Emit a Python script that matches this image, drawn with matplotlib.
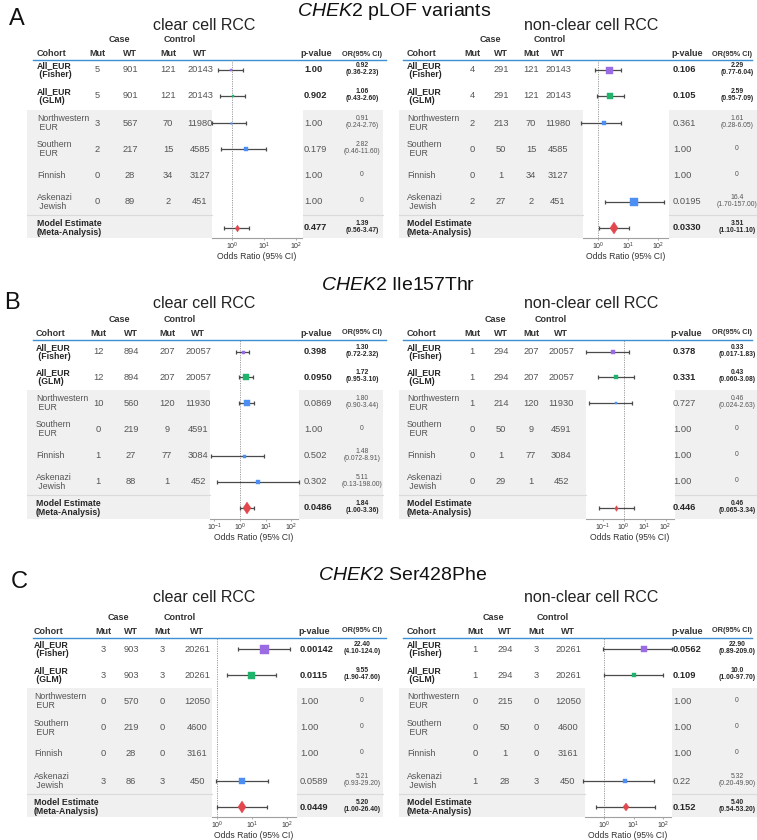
import matplotlib.pyplot as plt
from matplotlib.patches import Rectangle
from matplotlib.ticker import NullLocator

plt.rcParams['font.family'] = ['Liberation Sans', 'DejaVu Sans']
plt.rcParams['mathtext.fontset'] = 'custom'
plt.rcParams['mathtext.rm'] = 'Liberation Sans'
plt.rcParams['mathtext.it'] = 'Liberation Sans:italic'
plt.rcParams['mathtext.bf'] = 'Liberation Sans:bold'

W, H = 757, 840

cohorts = ["All_EUR\n (Fisher)", "All_EUR\n (GLM)", "Northwestern\n EUR",
           "Southern\n EUR", "Finnish", "Askenazi\n Jewish",
           "Model Estimate\n(Meta-Analysis)"]
bold_rows = [True, True, False, False, False, False, True]

# ---- A: CHEK2 pLOF variants
plof_ctrl_mut = [121, 121, 70, 15, 34, 2]
plof_ctrl_wt = [20143, 20143, 11980, 4585, 3127, 451]

plof_cc_case_mut = [5, 5, 3, 2, 0, 0]
plof_cc_case_wt = [901, 901, 567, 217, 28, 89]
plof_cc_pval = ["1.00", "0.902", "1.00", "0.179", "1.00", "1.00", "0.477"]
plof_cc_or = ["0.92", "1.06", "0.91", "2.82", "0", "0", "1.39"]
plof_cc_ci = ["0.36-2.23", "0.43-2.60", "0.24-2.76", "0.46-11.60", "", "", "0.56-3.47"]

plof_ncc_case_mut = [4, 4, 2, 0, 0, 2]
plof_ncc_case_wt = [291, 291, 213, 50, 1, 27]
plof_ncc_pval = ["0.106", "0.105", "0.361", "1.00", "1.00", "0.0195", "0.0330"]
plof_ncc_or = ["2.29", "2.59", "1.61", "0", "0", "16.4", "3.51"]
plof_ncc_ci = ["0.77-6.04", "0.95-7.09", "0.28-6.05", "", "", "1.70-157.00", "1.10-11.10"]

# ---- B: CHEK2 Ile157Thr
ile_ctrl_mut = [207, 207, 120, 9, 77, 1]
ile_ctrl_wt = [20057, 20057, 11930, 4591, 3084, 452]

ile_cc_case_mut = [12, 12, 10, 0, 1, 1]
ile_cc_case_wt = [894, 894, 560, 219, 27, 88]
ile_cc_pval = ["0.398", "0.0950", "0.0869", "1.00", "0.502", "0.302", "0.0486"]
ile_cc_or = ["1.30", "1.72", "1.80", "0", "1.48", "5.11", "1.84"]
ile_cc_ci = ["0.72-2.32", "0.95-3.10", "0.90-3.44", "", "0.072-8.91", "0.13-198.00", "1.00-3.36"]

ile_ncc_case_mut = [1, 1, 1, 0, 0, 0]
ile_ncc_case_wt = [294, 294, 214, 50, 1, 29]
ile_ncc_pval = ["0.378", "0.331", "0.727", "1.00", "1.00", "1.00", "0.446"]
ile_ncc_or = ["0.33", "0.43", "0.46", "0", "0", "0", "0.46"]
ile_ncc_ci = ["0.017-1.83", "0.060-3.08", "0.024-2.63", "", "", "", "0.065-3.34"]

# ---- C: CHEK2 Ser428Phe
ser_ctrl_mut = [3, 3, 0, 0, 0, 3]
ser_ctrl_wt = [20261, 20261, 12050, 4600, 3161, 450]

ser_cc_case_mut = [3, 3, 0, 0, 0, 3]
ser_cc_case_wt = [903, 903, 570, 219, 28, 86]
ser_cc_pval = ["0.00142", "0.0115", "1.00", "1.00", "1.00", "0.0589", "0.0449"]
ser_cc_or = ["22.40", "9.55", "0", "0", "0", "5.21", "5.20"]
ser_cc_ci = ["4.10-124.0", "1.90-47.60", "", "", "", "0.93-29.20", "1.00-26.40"]

ser_ncc_case_mut = [1, 1, 0, 0, 0, 1]
ser_ncc_case_wt = [294, 294, 215, 50, 1, 28]
ser_ncc_pval = ["0.0562", "0.109", "1.00", "1.00", "1.00", "0.22", "0.152"]
ser_ncc_or = ["22.90", "10.0", "0", "0", "0", "5.32", "5.40"]
ser_ncc_ci = ["0.89-209.0", "1.00-97.70", "", "", "", "0.20-49.90", "0.54-53.20"]

# ---- styling
BAND = '#f0f0f0'
SEP = '#dadada'
BLUE_LINE = '#3d8fd6'
TXT = '#555555'
DARK = '#262626'
row_colors = ['#9b6be3', '#1fb36b', '#4d8ef2', '#4d8ef2', '#4d8ef2', '#4d8ef2', '#e2474e']
row_markers = ['s', 's', 's', 's', 's', 's', 'd']

# panel vertical layout (pixels from top)
panels = [
    dict(letter='A', letter_x=17, letter_y=19, title=r'$\mathit{CHEK2}$ pLOF variants', title_x=394,
         title_y=11, sub_y=25, case_y=40, head_y=54, line_y=60,
         rows=[70, 96, 123, 149, 176, 202, 228], bottom=238),
    dict(letter='B', letter_x=12, letter_y=303, title=r'$\mathit{CHEK2}$ Ile157Thr', title_x=398,
         title_y=286, sub_y=304, case_y=320, head_y=333, line_y=340,
         rows=[352, 377, 403, 429, 456, 482, 508], bottom=519),
    dict(letter='C', letter_x=19, letter_y=582, title=r'$\mathit{CHEK2}$ Ser428Phe', title_x=403,
         title_y=575, sub_y=597, case_y=617, head_y=631, line_y=638,
         rows=[649, 675, 701, 728, 754, 781, 807], bottom=817),
]

left_cols = dict(edge_l=27, edge_r=383, line_l=33, line_r=386, sub_x=204, orc=362, orh=362)
right_cols = dict(edge_l=399, edge_r=757, line_l=403, line_r=752, sub_x=591, orc=737, orh=732)

tables = [
    # panel, title, data, columns, forest geometry, marker px
    (0, 'clear cell RCC',
     dict(mut1=plof_cc_case_mut, wt1=plof_cc_case_wt, mut2=plof_ctrl_mut, wt2=plof_ctrl_wt,
          pval=plof_cc_pval, est=plof_cc_or, ci=plof_cc_ci),
     dict(left_cols, cohort=37, mut1=97, wt1=130, mut2=168, wt2=200, case_x=119, ctrl_x=180, ph=300, pv=304),
     dict(left=212, right=302, one=232, ppd=32, ticks=[1, 10, 100]),
     [2, 2, 1.5, 5, 0, 0, 5]),
    (0, 'non-clear cell RCC',
     dict(mut1=plof_ncc_case_mut, wt1=plof_ncc_case_wt, mut2=plof_ctrl_mut, wt2=plof_ctrl_wt,
          pval=plof_ncc_pval, est=plof_ncc_or, ci=plof_ncc_ci),
     dict(right_cols, cohort=407, mut1=472, wt1=501, mut2=531, wt2=558, case_x=490, ctrl_x=550, ph=671, pv=673),
     dict(left=583, right=668, one=598, ppd=30, ticks=[1, 10, 100]),
     [7, 6, 4, 0, 0, 8, 9]),
    (1, 'clear cell RCC',
     dict(mut1=ile_cc_case_mut, wt1=ile_cc_case_wt, mut2=ile_ctrl_mut, wt2=ile_ctrl_wt,
          pval=ile_cc_pval, est=ile_cc_or, ci=ile_cc_ci),
     dict(left_cols, cohort=36, mut1=98, wt1=131, mut2=167, wt2=198, case_x=119, ctrl_x=180, ph=300, pv=304),
     dict(left=210, right=298, one=240, ppd=25.7, ticks=[0.1, 1, 10, 100]),
     [3, 6, 6, 0, 3, 4, 9]),
    (1, 'non-clear cell RCC',
     dict(mut1=ile_ncc_case_mut, wt1=ile_ncc_case_wt, mut2=ile_ctrl_mut, wt2=ile_ctrl_wt,
          pval=ile_ncc_pval, est=ile_ncc_or, ci=ile_ncc_ci),
     dict(right_cols, cohort=407, mut1=472, wt1=501, mut2=531, wt2=561, case_x=495, ctrl_x=551, ph=670, pv=673),
     dict(left=586, right=674, one=623.5, ppd=21, ticks=[0.1, 1, 10, 100]),
     [4, 4, 2, 0, 0, 0, 4]),
    (2, 'clear cell RCC',
     dict(mut1=ser_cc_case_mut, wt1=ser_cc_case_wt, mut2=ser_ctrl_mut, wt2=ser_ctrl_wt,
          pval=ser_cc_pval, est=ser_cc_or, ci=ser_cc_ci),
     dict(left_cols, cohort=34, mut1=103, wt1=131, mut2=162, wt2=197, case_x=118, ctrl_x=180, ph=298, pv=300),
     dict(left=212, right=296, one=217, ppd=35, ticks=[1, 10, 100]),
     [9, 7, 0, 0, 0, 6, 9]),
    (2, 'non-clear cell RCC',
     dict(mut1=ser_ncc_case_mut, wt1=ser_ncc_case_wt, mut2=ser_ctrl_mut, wt2=ser_ctrl_wt,
          pval=ser_ncc_pval, est=ser_ncc_or, ci=ser_ncc_ci),
     dict(right_cols, cohort=407, mut1=475, wt1=505, mut2=536, wt2=568, case_x=493, ctrl_x=553, ph=671, pv=673),
     dict(left=585, right=671, one=604, ppd=29.5, ticks=[1, 10, 100]),
     [6, 5, 0, 0, 0, 4, 6]),
]


def px_rect(x0, y0, x1, y1):
    return [x0 / W, 1 - y1 / H, (x1 - x0) / W, (y1 - y0) / H]


def draw_table(fig, bg, py, sub, d, c, fx, msize):
    rows = py['rows']
    top = (rows[1] + rows[2]) / 2
    bot = py['bottom']
    sep = (rows[5] + rows[6]) / 2

    # grey row bands either side of the forest plot
    for x0, x1 in [(c['edge_l'], fx['left']), (fx['right'] + 1, c['edge_r'])]:
        bg.add_patch(Rectangle((x0, top), x1 - x0, bot - top, facecolor=BAND, edgecolor='none', zorder=0))
        bg.plot([x0, x1], [sep, sep], color=SEP, lw=0.8, zorder=1)

    bg.text(c['sub_x'], py['sub_y'], sub, fontsize=11.5, ha='center', va='center', color='#222')

    hdr = dict(fontsize=6.5, fontweight='bold', va='center', color='#333')
    bg.text(c['case_x'], py['case_y'], 'Case', ha='center', **hdr)
    bg.text(c['ctrl_x'], py['case_y'], 'Control', ha='center', **hdr)
    bg.text(c['cohort'], py['head_y'], 'Cohort', ha='left', **hdr)
    for k, lab in [('mut1', 'Mut'), ('wt1', 'WT'), ('mut2', 'Mut'), ('wt2', 'WT')]:
        bg.text(c[k], py['head_y'], lab, ha='center', **hdr)
    bg.text(c['ph'], py['head_y'], 'p-value', ha='left', **hdr)
    bg.text(c['orh'], py['head_y'], 'OR(95% CI)', ha='center', fontsize=5.3,
            fontweight='bold', va='center', color='#333')
    bg.plot([c['line_l'], c['line_r']], [py['line_y'], py['line_y']], color=BLUE_LINE, lw=1.0, zorder=2)

    for i, y in enumerate(rows):
        b = bold_rows[i]
        w = 'bold' if b else 'normal'
        col = DARK if b else TXT
        bg.text(c['cohort'], y, cohorts[i], ha='left', va='center', fontsize=6.3,
                fontweight=w, color=col, linespacing=0.95)
        if i < 6:
            for k in ['mut1', 'wt1', 'mut2', 'wt2']:
                bg.text(c[k], y, str(d[k][i]), ha='center', va='center', fontsize=6.7, color=TXT)
        bg.text(c['pv'], y, d['pval'][i], ha='left', va='center', fontsize=6.7, fontweight=w, color=col)
        lab = d['est'][i] if not d['ci'][i] else f"{d['est'][i]}\n({d['ci'][i]})"
        bg.text(c['orc'], y - 1, lab, ha='center', va='center', fontsize=4.9, fontweight=w,
                color=col, linespacing=1.1)

    # forest plot
    ax = fig.add_axes(px_rect(fx['left'], py['line_y'], fx['right'], bot))
    ax.patch.set_alpha(0)
    ax.set_xscale('log')
    ax.set_xlim(10 ** ((fx['left'] - fx['one']) / fx['ppd']),
                10 ** ((fx['right'] - fx['one']) / fx['ppd']))
    ax.set_ylim(bot, py['line_y'])
    ax.axvline(1, color='#9a9a9a', lw=0.7, ls=(0, (1.2, 1.2)), zorder=1)
    for i, y in enumerate(rows):
        est = float(d['est'][i])
        if est <= 0 or not d['ci'][i]:
            continue
        lo, hi = [float(v) for v in d['ci'][i].split('-')]
        ax.errorbar([est], [y], xerr=[[est - lo], [hi - est]], fmt='none', ecolor='#4a4a4a',
                    elinewidth=0.9, capsize=1.6, capthick=0.9, clip_on=False, zorder=2)
        if msize[i] > 0:
            ax.plot([est], [y], marker=row_markers[i], ms=msize[i] * 0.72, color=row_colors[i],
                    mec=row_colors[i], mew=0.3, ls='none', clip_on=False, zorder=3)
    for s in ['top', 'left', 'right']:
        ax.spines[s].set_visible(False)
    ax.spines['bottom'].set_color('#a0a0a0')
    ax.spines['bottom'].set_linewidth(0.8)
    ax.set_yticks([])
    ax.set_xticks(fx['ticks'])
    ax.xaxis.set_minor_locator(NullLocator())
    ax.tick_params(axis='x', labelsize=5, length=1.5, width=0.6, color='#a0a0a0',
                   labelcolor='#333', pad=0.5)
    ax.set_xlabel('Odds Ratio (95% CI)', fontsize=6.2, color='#333', labelpad=0.3)


fig = plt.figure(figsize=(W / 100, H / 100), dpi=100)
bg = fig.add_axes([0, 0, 1, 1])
bg.set_xlim(0, W)
bg.set_ylim(H, 0)
bg.axis('off')

for p in panels:
    bg.text(p['letter_x'], p['letter_y'], p['letter'], fontsize=17, ha='center', va='center', color='#111')
    bg.text(p['title_x'], p['title_y'], p['title'], fontsize=14, ha='center', va='center', color='#111')

for pi, sub, d, c, fx, ms in tables:
    draw_table(fig, bg, panels[pi], sub, d, c, fx, ms)

fig.savefig('out.png', dpi=100)
